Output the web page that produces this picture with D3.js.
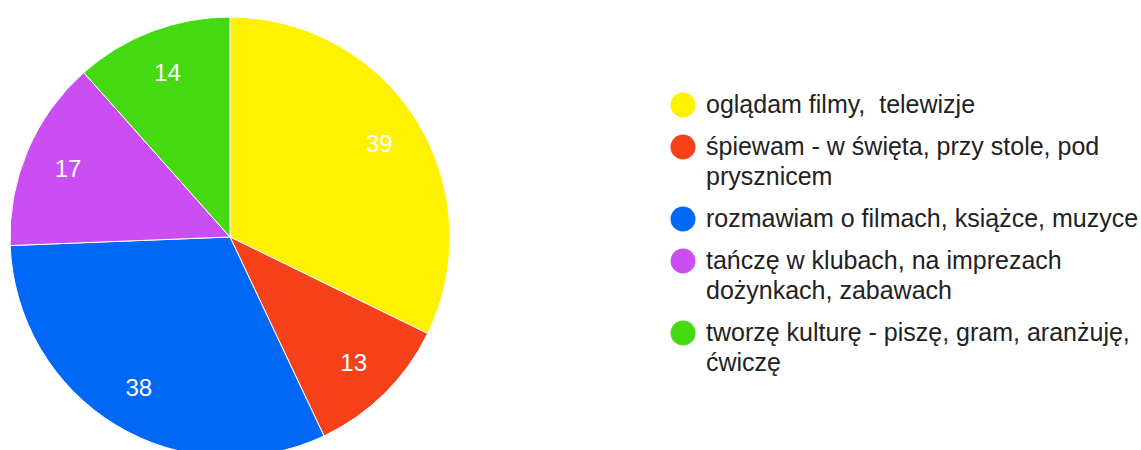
<!DOCTYPE html>
<html>
<head>
<meta charset="utf-8">
<script src="https://cdn.jsdelivr.net/npm/d3@7"></script>
<style>
  body { margin: 0; background: #fff; }
  svg { display: block; }
</style>
</head>
<body>
<div id="chart"></div>
<script>
// Chart data
const categories = [
  ["oglądam filmy,  telewizje"],
  ["śpiewam - w święta, przy stole, pod", "prysznicem"],
  ["rozmawiam o filmach, książce, muzyce"],
  ["tańczę w klubach, na imprezach", "dożynkach, zabawach"],
  ["tworzę kulturę - piszę, gram, aranżuję,", "ćwiczę"]
];
const values = [39, 13, 38, 17, 14];
const colors = ["#fff200", "#f4411a", "#0068f5", "#ca4ef1", "#45d912"];

const width = 1141, height = 450;
const cx = 230, cy = 237, radius = 220;

const svg = d3.select("#chart")
  .append("svg")
  .attr("width", width)
  .attr("height", height);

const pie = d3.pie().sort(null).value(d => d);
const arcs = pie(values);
const arc = d3.arc().innerRadius(0).outerRadius(radius);
const labelArc = d3.arc().innerRadius(radius * 0.8).outerRadius(radius * 0.8);

const g = svg.append("g").attr("transform", `translate(${cx},${cy})`);

// slices
g.selectAll("path.slice")
  .data(arcs)
  .enter()
  .append("path")
  .attr("class", "slice")
  .attr("d", arc)
  .attr("fill", (d, i) => colors[i])
  .attr("stroke", "#fff")
  .attr("stroke-width", 1);

// value labels inside slices
g.selectAll("text.val")
  .data(arcs)
  .enter()
  .append("text")
  .attr("class", "val")
  .attr("transform", d => `translate(${labelArc.centroid(d)})`)
  .attr("text-anchor", "middle")
  .attr("dy", "0.36em")
  .attr("font-family", "Liberation Sans, Arial, sans-serif")
  .attr("font-size", 24)
  .attr("fill", "#fff")
  .text(d => d.value);

// legend
const legendX = 683, textX = 706;
const lineH = 30, gap = 12;
let y = 105;
const legendRows = categories.map((lines, i) => {
  const row = { lines, color: colors[i], y };
  y += lines.length * lineH + gap;
  return row;
});

const legend = svg.append("g").attr("class", "legend");
const item = legend.selectAll("g.item")
  .data(legendRows)
  .enter()
  .append("g")
  .attr("class", "item");

item.append("circle")
  .attr("cx", legendX)
  .attr("cy", d => d.y)
  .attr("r", 12.5)
  .attr("fill", d => d.color);

item.append("text")
  .attr("font-family", "Liberation Sans, Arial, sans-serif")
  .attr("font-size", 25)
  .attr("fill", "#222")
  .selectAll("tspan")
  .data(d => d.lines.map((t, j) => ({ t, y: d.y + j * lineH })))
  .enter()
  .append("tspan")
  .attr("x", textX)
  .attr("y", d => d.y + 8)
  .attr("xml:space", "preserve")
  .style("white-space", "pre")
  .text(d => d.t);
</script>
</body>
</html>
